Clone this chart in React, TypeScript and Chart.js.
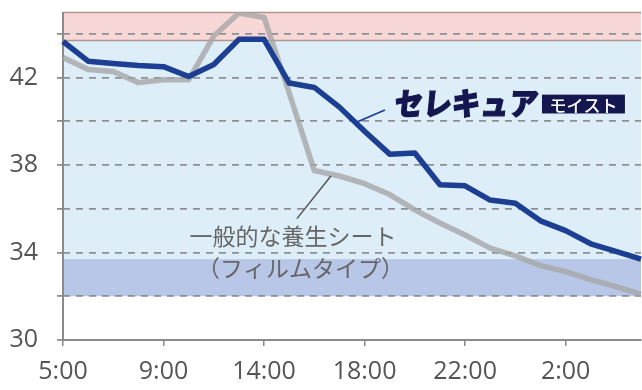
import React, { useEffect, useRef } from 'react';
import { Chart, registerables } from 'chart.js';

Chart.register(...registerables);

// ---- data ----
const categories = ['5:00', '', '', '', '9:00', '', '', '', '14:00', '', '', '', '18:00', '', '', '', '22:00', '', '', '', '2:00', '', '', ''];
const selecureMoist = [43.65, 42.75, 42.65, 42.55, 42.5, 42.05, 42.6, 43.75, 43.75, 41.75, 41.55, 40.65, 39.55, 38.5, 38.55, 37.1, 37.05, 36.4, 36.25, 35.45, 35.0, 34.4, 34.05, 33.7];
const filmSheet = [42.92, 42.37, 42.28, 41.77, 41.9, 41.9, 43.9, 44.95, 44.75, 41.3, 37.75, 37.5, 37.15, 36.65, 35.95, 35.35, 34.8, 34.2, 33.85, 33.4, 33.13, 32.76, 32.44, 32.1];
const yGridValues = [30, 32, 34, 36, 38, 40, 42, 44];
const yTickLabels = [30, 34, 38, 42];
const yMin = 30;
const yMax = 45;
const hotBand = [43.7, 45];
const comfortBand = [33.7, 43.7];
const coolBand = [32, 33.7];

const seriesName1 = 'セレキュア';
const seriesBadge1 = 'モイスト';
const seriesName2a = '一般的な養生シート';
const seriesName2b = '（フィルムタイプ）';

// annotation anchors in data space [index, value]
const label1Pos = [13.2, 40.88];
const badge1Range = [19.06, 22.36, 40.36, 41.22];
const leader1 = [[11.7, 39.97], [12.81, 40.52]];
const label2aPos = [9.15, 34.76];
const label2bPos = [9.45, 33.29];
const leader2 = [[9.31, 35.55], [10.66, 37.5]];

const BLUE = '#1c3f94';
const NAVY = '#14174f';
const GREY_LINE = 'rgba(165,165,165,0.78)';
const AXIS = '#8a8a8a';

const bandsPlugin = {
  id: 'bands',
  beforeDraw(chart: any) {
    const { ctx, chartArea, scales } = chart;
    const y = scales.y;
    const L = chartArea.left, R = chartArea.right;
    const fillBand = (b: number[], color: string) => {
      const top = y.getPixelForValue(b[1]);
      const bot = y.getPixelForValue(b[0]);
      ctx.fillStyle = color;
      ctx.fillRect(L, top, R - L, bot - top);
    };
    ctx.save();
    fillBand(hotBand, '#f8d8d7');
    fillBand(comfortBand, '#ddeef9');
    fillBand(coolBand, '#b8c7e7');
    ctx.strokeStyle = '#b39590';
    ctx.lineWidth = 1.5;
    [hotBand[0], hotBand[1]].forEach((v) => {
      const py = Math.round(y.getPixelForValue(v)) + 0.5;
      ctx.beginPath();
      ctx.moveTo(L, py);
      ctx.lineTo(R, py);
      ctx.stroke();
    });
    ctx.restore();
  },
  beforeDatasetsDraw(chart: any) {
    const { ctx, chartArea } = chart;
    ctx.save();
    ctx.strokeStyle = AXIS;
    ctx.lineWidth = 2;
    ctx.beginPath();
    ctx.moveTo(chartArea.left, chartArea.top);
    ctx.lineTo(chartArea.left, chartArea.bottom);
    ctx.stroke();
    ctx.restore();
  },
};

const annotPlugin = {
  id: 'annot',
  afterDatasetsDraw(chart: any) {
    const { ctx, scales } = chart;
    const X = (i: number) => scales.x.getPixelForValue(i);
    const Y = (v: number) => scales.y.getPixelForValue(v);
    ctx.save();
    // leader lines
    ctx.lineWidth = 1.8;
    ctx.strokeStyle = BLUE;
    ctx.beginPath();
    ctx.moveTo(X(leader1[0][0]), Y(leader1[0][1]));
    ctx.lineTo(X(leader1[1][0]), Y(leader1[1][1]));
    ctx.stroke();
    ctx.strokeStyle = '#555';
    ctx.lineWidth = 1.5;
    ctx.beginPath();
    ctx.moveTo(X(leader2[0][0]), Y(leader2[0][1]));
    ctx.lineTo(X(leader2[1][0]), Y(leader2[1][1]));
    ctx.stroke();

    // series 1 label
    ctx.fillStyle = NAVY;
    ctx.font = '900 31px "Noto Sans CJK JP"';
    ctx.textBaseline = 'middle';
    ctx.textAlign = 'left';
    const tx = X(label1Pos[0]);
    const ty = Y(label1Pos[1]);
    const bx0 = X(badge1Range[0]), bx1 = X(badge1Range[1]);
    const w = ctx.measureText(seriesName1).width;
    const target = bx0 - tx - 4;
    ctx.save();
    ctx.translate(tx, ty + 1);
    ctx.transform(target / w, 0, -0.1, 1, 0, 0);
    ctx.fillText(seriesName1, 0, 0);
    ctx.lineWidth = 1.2;
    ctx.strokeStyle = NAVY;
    ctx.strokeText(seriesName1, 0, 0);
    ctx.restore();

    // badge
    const by0 = Y(badge1Range[3]), by1 = Y(badge1Range[2]);
    ctx.fillStyle = NAVY;
    ctx.fillRect(bx0, by0, bx1 - bx0, by1 - by0);
    ctx.fillStyle = '#ffffff';
    ctx.font = '500 17px "Noto Sans CJK JP"';
    ctx.textAlign = 'center';
    ctx.fillText(seriesBadge1, (bx0 + bx1) / 2, (by0 + by1) / 2 + 1);

    // series 2 label
    ctx.fillStyle = '#666666';
    ctx.font = '400 23px "Noto Sans CJK JP"';
    ctx.textAlign = 'center';
    ctx.fillText(seriesName2a, X(label2aPos[0]), Y(label2aPos[1]));
    ctx.fillText(seriesName2b, X(label2bPos[0]), Y(label2bPos[1]));
    ctx.restore();
  },
};

export default function App() {
  const ref = useRef<HTMLCanvasElement>(null);
  useEffect(() => {
    document.body.style.margin = '0';
    const chart = new Chart(ref.current as HTMLCanvasElement, {
      type: 'line',
      data: {
        labels: categories,
        datasets: [
          {
            label: seriesName1,
            data: selecureMoist,
            borderColor: BLUE,
            borderWidth: 5.5,
            pointRadius: 0,
            tension: 0,
            borderJoinStyle: 'round',
            order: 0,
          },
          {
            label: seriesName2a,
            data: filmSheet,
            borderColor: GREY_LINE,
            borderWidth: 5.5,
            pointRadius: 0,
            tension: 0,
            borderJoinStyle: 'round',
            order: 1,
          },
        ],
      },
      options: {
        animation: false,
        responsive: false,
        maintainAspectRatio: false,
        layout: { padding: { top: 12, right: 1, left: 0, bottom: 0 } },
        plugins: { legend: { display: false }, tooltip: { enabled: false } },
        scales: {
          x: {
            type: 'category',
            offset: false,
            grid: {
              drawOnChartArea: false,
              drawTicks: true,
              tickLength: 6,
              color: '#888',
              lineWidth: 1.5,
            },
            border: { color: AXIS, width: 2 },
            ticks: {
              autoSkip: false,
              maxRotation: 0,
              padding: 11,
              color: '#555',
              font: { family: 'Open Sans', size: 25 },
              callback: function (this: any, v: any) {
                const l = categories[v as number];
                return l ? l : null;
              },
            },
            afterFit: (s: any) => {
              s.height = 50;
            },
          },
          y: {
            min: yMin,
            max: yMax,
            afterBuildTicks: (s: any) => {
              s.ticks = yGridValues.map((v) => ({ value: v }));
            },
            grid: {
              color: (c: any) => (c.tick && c.tick.value === yMin ? 'rgba(0,0,0,0)' : '#8c9095'),
              lineWidth: 1.8,
              tickLength: 6,
              tickColor: '#8c9095',
            },
            border: { display: false, color: AXIS, width: 2, dash: [7, 6] },
            ticks: {
              padding: 19,
              color: '#555',
              font: { family: 'Open Sans', size: 25 },
              callback: (v: any) => (yTickLabels.includes(v as number) ? String(v) : ''),
            },
            afterFit: (s: any) => {
              s.width = 63;
              s.paddingTop = 0;
              s.paddingBottom = 0;
            },
          },
        },
      } as any,
      plugins: [bandsPlugin, annotPlugin],
    });
    return () => chart.destroy();
  }, []);
  return (
    <div style={{ position: 'fixed', left: 0, top: 0, width: 642, height: 390 }}>
      <canvas ref={ref} width={642} height={390} />
    </div>
  );
}
